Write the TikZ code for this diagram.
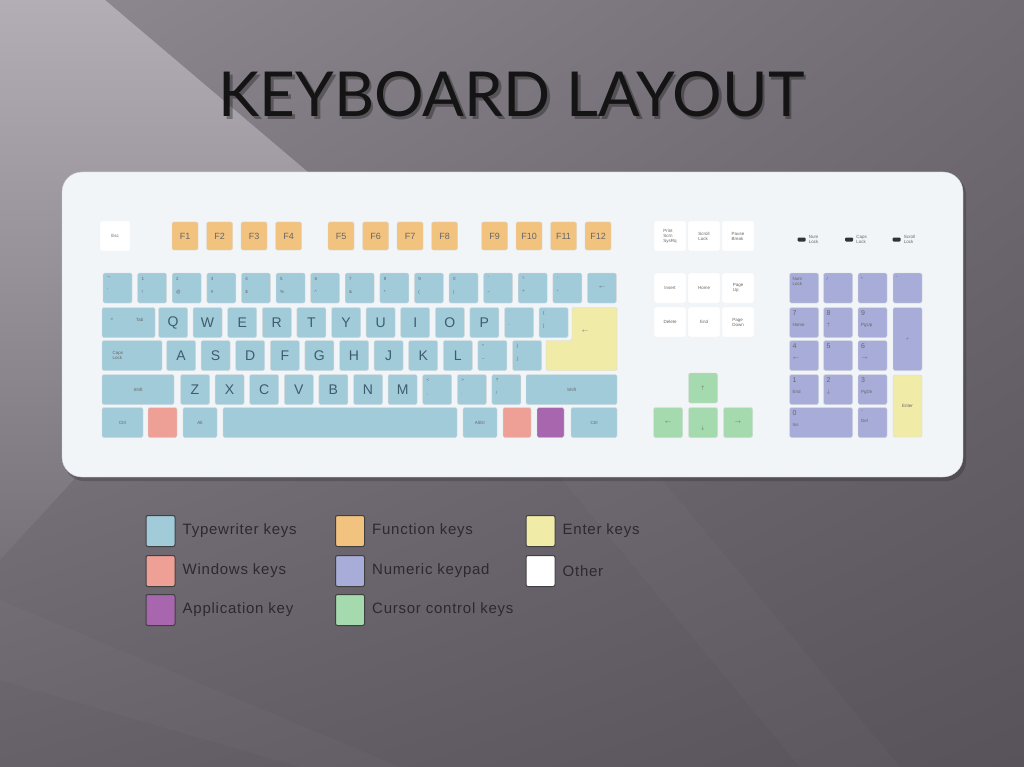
\documentclass[tikz,border=0pt]{standalone}
\usepackage{fontspec}
\setmainfont{Liberation Sans}
\newfontfamily\titlefont{Lato}
\newfontfamily\legfont[LetterSpace=5]{Liberation Sans}
\usetikzlibrary{calc}
\usetikzlibrary{positioning}
\usetikzlibrary{shadings}

\definecolor{bgUL}{HTML}{8F8A92}
\definecolor{bgUR}{HTML}{716C74}
\definecolor{bgLL}{HTML}{666168}
\definecolor{bgLR}{HTML}{58525A}
\definecolor{bgHi}{HTML}{B3AEB6}
\definecolor{bgLo}{HTML}{77727A}
\definecolor{panel}{HTML}{F1F5F7}
\definecolor{twkey}{HTML}{A2CBDA}
\definecolor{fnkey}{HTML}{F2C27F}
\definecolor{entkey}{HTML}{F1EBA8}
\definecolor{winkey}{HTML}{EFA096}
\definecolor{appkey}{HTML}{A866AE}
\definecolor{numkey}{HTML}{A7ACD8}
\definecolor{curkey}{HTML}{A5D9AE}
\definecolor{keytext}{HTML}{3E5D69}
\definecolor{legtext}{HTML}{2C2A2E}

\begin{document}
\begin{tikzpicture}[x=1pt,y=-1pt]
\tikzstyle{key}=[draw=black!15, rounded corners=1.5pt, minimum width=29pt, minimum height=30pt, inner sep=0pt, text=keytext, font=\fontsize{14}{14}\selectfont]
\tikzstyle{tw}=[key, fill=twkey]
\tikzstyle{fn}=[key, fill=fnkey, minimum width=26pt, minimum height=28pt, text=black!60, font=\fontsize{9}{9}\selectfont]
\tikzstyle{other}=[key, fill=white, draw=black!5, minimum width=32pt]
\tikzstyle{cur}=[key, fill=curkey]
\tikzstyle{nump}=[key, fill=numkey]
\tikzstyle{tiny}=[inner sep=0pt, align=left, text=black!60, font=\fontsize{4.5}{5}\selectfont]
\tikzstyle{legsq}=[draw=black!75, line width=1pt, rounded corners=2pt, minimum width=29pt, minimum height=31pt, inner sep=0pt]
\tikzstyle{legtext}=[inner sep=0pt, text=legtext, font=\legfont\fontsize{15}{15}\selectfont]

\shade[upper left=bgUL, upper right=bgUR, lower left=bgLL, lower right=bgLR] (0,0) rectangle (1024,767);
\shade[top color=bgHi, bottom color=bgLo] (0,0) -- (105,0) -- (335,195) -- (0,560) -- cycle;
\fill[white, opacity=0.025] (560,477) -- (660,477) -- (900,767) -- (800,767) -- cycle;
\fill[white, opacity=0.025] (0,600) -- (0,680) -- (300,767) -- (400,767) -- cycle;
\useasboundingbox (0,0) rectangle (1024,767);

\node[font=\titlefont\fontsize{62}{62}\selectfont, text=black, opacity=0.3, inner sep=0pt] (titleshadow) at (514,97.5) {KEYBOARD LAYOUT};
\node[font=\titlefont\fontsize{62}{62}\selectfont, text=black!92, inner sep=0pt] (title) at (511.5,94.5) {KEYBOARD LAYOUT};

\fill[black, opacity=0.18, rounded corners=20pt] (64,175) rectangle (966,481);
\draw[draw=black!18, fill=panel, rounded corners=20pt] (62,172) rectangle (963,477);

\node[other, minimum width=30pt] (esc) at (115,236) {};
\node[tiny] at (esc) {Esc};
\foreach \n/\x in {1/185,2/219.5,3/254,4/288.5,5/341,6/375.5,7/410,8/444.5,9/494.5,10/529,11/563.5,12/598}
  \node[fn] (f\n) at (\x,236) {F\n};

\foreach \txt/\bot [count=\i from 0] in {¬/`, 1/!, 2/@, 3/\#, 4/\$, 5/\%, 6/\textasciicircum, 7/\&, 8/*, 9/{(}, 0/{)}, -/\_, =/+, '/"} {
  \node[tw] (num\i) at ({117.5+\i*34.6},288) {};
  \node[tiny, anchor=north west] at ($(num\i.north west)+(4,4)$) {\txt\\[8pt]\bot};
}
\node[tw] (bksp) at (601.9,288) {};
\node[tiny] at (bksp) {$\leftarrow$};

\node[tw, minimum width=53pt] (tab) at (128.5,322.5) {};
\node[tiny] at ($(tab.west)+(10,-3)$) {»};
\node[tiny] at ($(tab.west)+(38,-3)$) {Tab};
\foreach \ltr [count=\i from 0] in {Q,W,E,R,T,Y,U,I,O,P}
  \node[tw] (key\ltr) at ({173+\i*34.6},322.5) {\ltr};
\node[tw] (acute) at (519,322.5) {};
\node[tiny, anchor=north west] at ($(acute.north west)+(4,4)$) {´\\[8pt]`};
\node[tw] (lbrack) at (553.6,322.5) {};
\node[tiny, anchor=north west] at ($(lbrack.north west)+(4,4)$) {\{\\[8pt][};
\filldraw[fill=entkey, draw=black!15, rounded corners=1.5pt] (572,307.5) -- (617,307.5) -- (617,370.5) -- (546,370.5) -- (546,340.5) -- (572,340.5) -- cycle;
\node[tiny] (ret) at (585,332) {$\leftarrow$};

\node[tw, minimum width=60pt] (caps) at (132,355.5) {};
\node[tiny] at ($(caps.west)+(16,0)$) {Caps\\Lock};
\foreach \ltr [count=\i from 0] in {A,S,D,F,G,H,J,K,L}
  \node[tw] (key\ltr) at ({181+\i*34.6},355.5) {\ltr};
\node[tw] (tilde) at (492.4,355.5) {};
\node[tiny, anchor=north west] at ($(tilde.north west)+(4,4)$) {\textasciicircum\\[8pt]\textasciitilde};
\node[tw] (rbrack) at (527,355.5) {};
\node[tiny, anchor=north west] at ($(rbrack.north west)+(4,4)$) {\}\\[8pt]]};

\node[tw, minimum width=72pt] (lshift) at (138,389.5) {};
\node[tiny] at (lshift) {Shift};
\foreach \ltr [count=\i from 0] in {Z,X,C,V,B,N,M}
  \node[tw] (key\ltr) at ({195+\i*34.6},389.5) {\ltr};
\foreach \txt/\bot [count=\i from 7] in {</{,}, >/., ?/{/}} {
  \node[tw] (pun\i) at ({195+\i*34.6},389.5) {};
  \node[tiny, anchor=north west] at ($(pun\i.north west)+(4,4)$) {\txt\\[8pt]\bot};
}
\node[tw, minimum width=91pt] (rshift) at (571.5,389.5) {};
\node[tiny] at (rshift) {Shift};

\node[tw, minimum width=41pt] (lctrl) at (122.5,422.5) {};
\node[tiny] at (lctrl) {Ctrl};
\node[key, fill=winkey] (lwin) at (162.5,422.5) {};
\node[tw, minimum width=34pt] (lalt) at (200,422.5) {};
\node[tiny] at (lalt) {Alt};
\node[tw, minimum width=234pt] (space) at (340,422.5) {};
\node[tw, minimum width=34pt] (altgr) at (480,422.5) {};
\node[tiny] at (altgr) {AltGr};
\node[key, fill=winkey, minimum width=28pt] (rwin) at (517,422.5) {};
\node[key, fill=appkey, minimum width=27pt] (menu) at (550.5,422.5) {};
\node[tw, minimum width=46pt] (rctrl) at (594,422.5) {};
\node[tiny] at (rctrl) {Ctrl};

\foreach \txt [count=\i from 0] in {{Print\\Scrn\\SysRq},{Scroll\\Lock},{Pause\\Break}} {
  \node[other] (sys\i) at ({670+\i*34},236) {};
  \node[tiny] at (sys\i) {\txt};
}
\foreach \txt [count=\i from 0] in {Insert,Home,{Page\\Up}} {
  \node[other] (ins\i) at ({670+\i*34},288) {};
  \node[tiny] at (ins\i) {\txt};
}
\foreach \txt [count=\i from 0] in {Delete,End,{Page\\Down}} {
  \node[other] (del\i) at ({670+\i*34},322) {};
  \node[tiny] at (del\i) {\txt};
}

\node[cur] (up) at (703,388) {};
\node[cur] (left) at (668,422.5) {};
\node[cur] (down) at (703,422.5) {};
\node[cur] (right) at (738,422.5) {};
\node[tiny] at (up) {$\uparrow$};
\node[tiny] at (left) {$\leftarrow$};
\node[tiny] at ($(down)+(0,6)$) {$\downarrow$};
\node[tiny] at (right) {$\rightarrow$};

\foreach \txt [count=\i from 0] in {{Num\\Lock},{Caps\\Lock},{Scroll\\Lock}} {
  \node[fill=black!80, rounded corners=1pt, minimum width=8pt, minimum height=4pt, inner sep=0pt] (led\i) at ({801.5+\i*47.5},239.5) {};
  \node[tiny, right=3pt of led\i] {\txt};
}

\node[nump] (numlock) at (804,288) {};
\node[tiny, anchor=north west] at ($(numlock.north west)+(3,4)$) {Num\\Lock};
\foreach \txt/\x [count=\i] in {{/}/838, */872.5, -/907.5} {
  \node[nump] (op\i) at (\x,288) {};
  \node[tiny, anchor=north west] at ($(op\i.north west)+(3,4)$) {\txt};
}
\foreach \dg/\word/\x/\y in {7/Home/804/322.5, 8/{$\uparrow$}/838/322.5, 9/PgUp/872.5/322.5, 4/{$\leftarrow$}/804/355.5, 5/{}/838/355.5, 6/{$\rightarrow$}/872.5/355.5, 1/End/804/389.5, 2/{$\downarrow$}/838/389.5, 3/PgDn/872.5/389.5} {
  \node[nump] (kp\dg) at (\x,\y) {};
  \node[tiny, anchor=north west] at ($(kp\dg.north west)+(3,3)$) {{\fontsize{7}{7}\selectfont\dg}\\[6pt]\word};
}
\node[nump, minimum height=63pt] (plus) at (907.5,339) {};
\node[tiny] at (plus) {+};
\node[key, fill=entkey, minimum height=62pt] (kpenter) at (907.5,406) {};
\node[tiny] at (kpenter) {Enter};
\node[nump, minimum width=63pt] (kp0) at (821,422.5) {};
\node[tiny, anchor=north west] at ($(kp0.north west)+(3,3)$) {{\fontsize{7}{7}\selectfont 0}\\[6pt]Ins};
\node[nump] (kpdel) at (872.5,422.5) {};
\node[tiny, anchor=north west] at ($(kpdel.north west)+(3,3)$) {{\fontsize{7}{7}\selectfont .}\\[6pt]Del};

\foreach \col/\txt/\x/\y [count=\i] in {twkey/Typewriter keys/160.5/531, winkey/Windows keys/160.5/571, appkey/Application key/160.5/610, fnkey/Function keys/350/531, numkey/Numeric keypad/350/571, curkey/Cursor control keys/350/610, entkey/Enter keys/540.5/531, white/Other/540.5/571} {
  \node[legsq, fill=\col] (leg\i) at (\x,\y) {};
  \node[legtext, right=7pt of leg\i] {\txt};
}
\end{tikzpicture}
\end{document}
